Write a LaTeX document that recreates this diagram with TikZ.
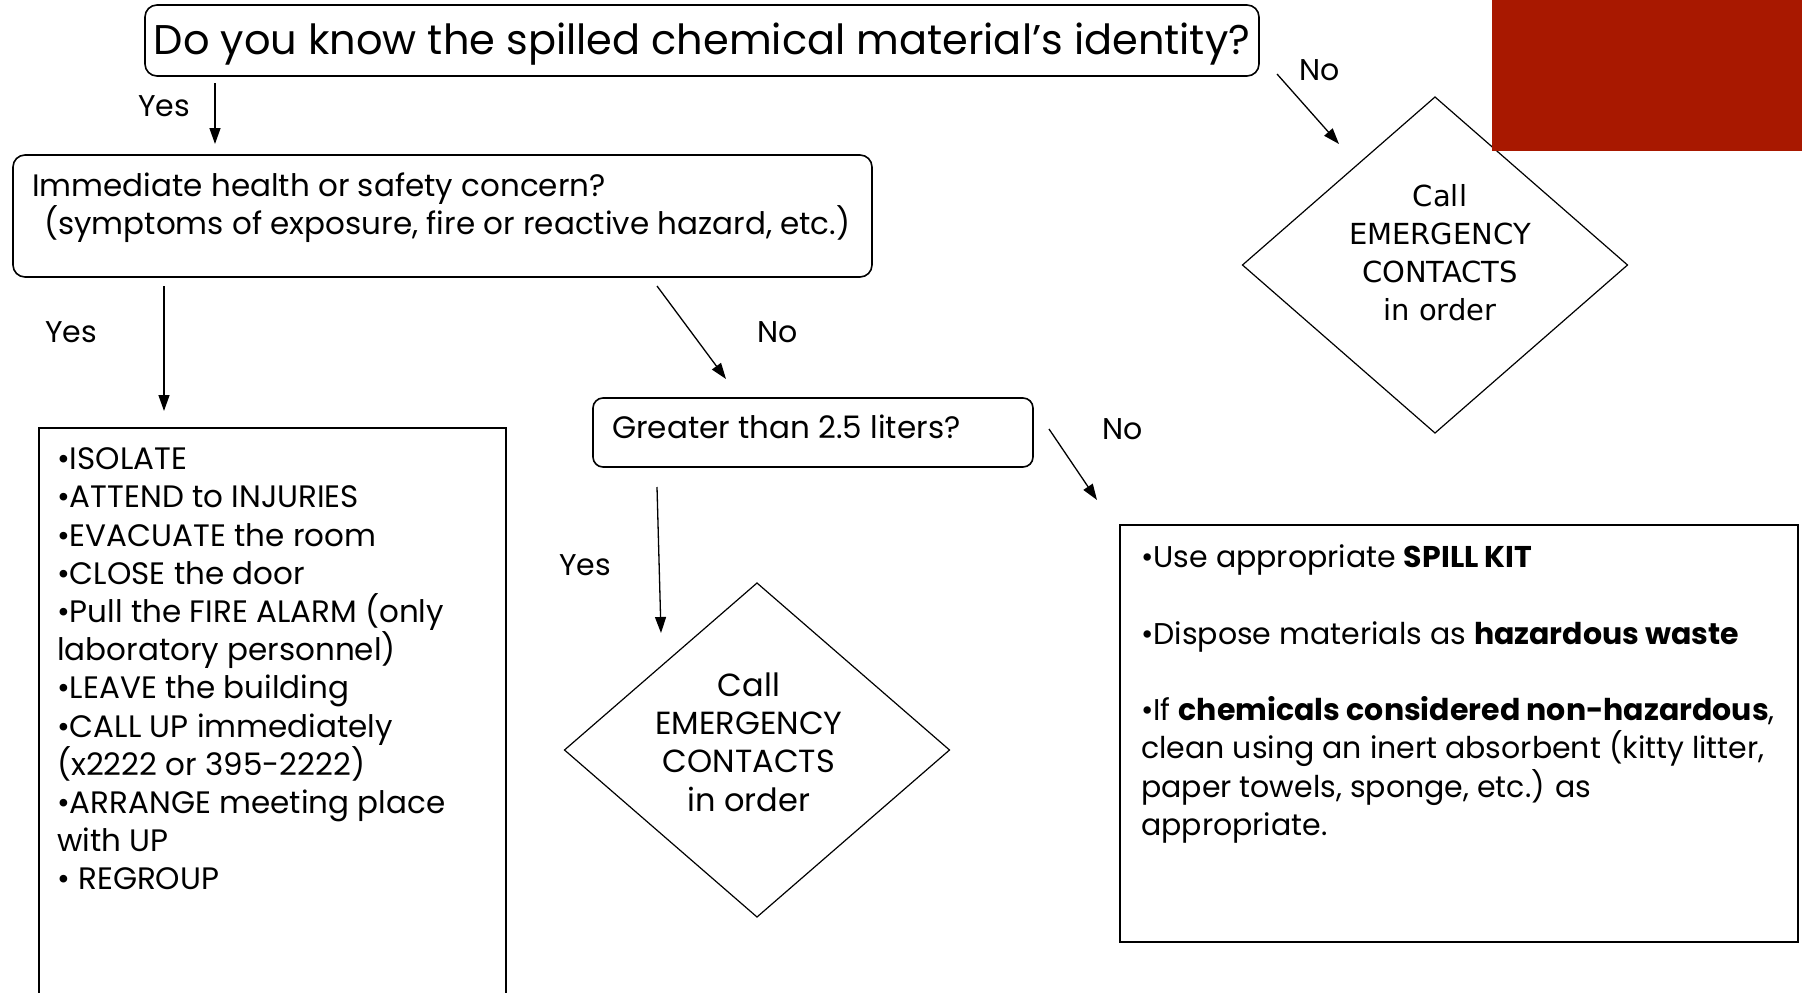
\documentclass[tikz,border=0pt]{standalone}
\usepackage{fontspec}
\setmainfont{Poppins}
\newfontfamily\handfont{DejaVu Sans}
\usetikzlibrary{arrows.meta,shapes.geometric}
\definecolor{slidered}{RGB}{168,24,0}
\tikzset{
  box/.style={draw, line width=1.6pt, rounded corners=12pt},
  sqbox/.style={draw, line width=1.6pt},
  decision/.style={draw, diamond, line width=1.2pt, inner sep=0pt, outer sep=0pt},
  body/.style={font=\fontsize{31}{38.2}\selectfont, inner sep=0pt, align=left},
  arr/.style={-{Triangle[length=16pt,width=11pt]}, line width=1.3pt},
}
\begin{document}
\begin{tikzpicture}[x=1pt,y=-1pt]
  \useasboundingbox (0,0) rectangle (1802,993);
  \clip (0,0) rectangle (1802,993);
  % questions
  \node[box, minimum width=1114pt, minimum height=71pt,
    font=\fontsize{41.5}{48}\selectfont, text depth=4pt] (q1) at (702,40.5)
    {Do you know the spilled chemical material’s identity?};
  \node[box, minimum width=859pt, minimum height=122pt] (q2) at (442.5,216) {};
  \node[body, anchor=west] (q2t) at (32,208)
    {Immediate health or safety concern?\\\hspace{12pt}(symptoms of exposure, fire or reactive hazard, etc.)};
  \node[box, rounded corners=10pt, minimum width=440pt, minimum height=69pt] (q4) at (813,432.5) {};
  \node[body, anchor=west] (q4t) at (612,426.5) {Greater than 2.5 liters?};
  % actions
  \node[sqbox, minimum width=467pt, minimum height=582pt] (q3) at (272.5,719) {};
  \node[body, anchor=west] (q3t) at (57,669) {%
    •ISOLATE\\
    •ATTEND to INJURIES\\
    •EVACUATE the room\\
    •CLOSE the door\\
    •Pull the FIRE ALARM (only\\
    laboratory personnel)\\
    •LEAVE the building\\
    •CALL UP immediately\\
    (x2222 or 395-2222)\\
    •ARRANGE meeting place\\
    with UP\\
    • REGROUP};
  \node[sqbox, minimum width=678pt, minimum height=417pt] (q5) at (1459,733.5) {};
  \node[body, anchor=west, font=\fontsize{30}{38.2}\selectfont] (q5t) at (1141,694) {%
    •Use appropriate \textbf{SPILL KIT}\\[38.2pt]
    •Dispose materials as \textbf{hazardous waste}\\[38.2pt]
    •If \textbf{chemicals considered non-hazardous},\\
    clean using an inert absorbent (kitty litter,\\
    paper towels, sponge, etc.) as\\
    appropriate.};
  \node[decision, minimum width=385pt, minimum height=334pt] (d2) at (757,750) {};
  \node[body, align=center, font=\fontsize{32}{38.2}\selectfont] (d2t) at (749,742)
    {Call\\EMERGENCY\\CONTACTS\\in order};
  \node[decision, minimum width=385pt, minimum height=336pt] (d1) at (1435,265) {};
  \node[body, align=center, font=\handfont\fontsize{29}{38}\selectfont] (d1t) at (1440,253)
    {Call\\EMERGENCY\\CONTACTS\\in order};
  % red corner block
  \fill[slidered] (1492,0) rectangle (1802,151);
  % connectors
  \coordinate (a1) at (215,83);   \coordinate (b1) at (215,144);
  \coordinate (a2) at (164,286);  \coordinate (b2) at (164,411);
  \coordinate (a3) at (657,286);  \coordinate (b3) at (726,379);
  \coordinate (a4) at (657,487);  \coordinate (b4) at (661,633);
  \coordinate (a5) at (1049,429); \coordinate (b5) at (1097,500);
  \coordinate (a6) at (1277,74);  \coordinate (b6) at (1339,144);
  \draw[arr] (a1) -- (b1);
  \draw[arr] (a2) -- (b2);
  \draw[arr] (a3) -- (b3);
  \draw[arr] (a4) -- (b4);
  \draw[arr] (a5) -- (b5);
  \draw[arr] (a6) -- (b6);
  \node[body, font=\fontsize{30}{36}\selectfont] (y1) at (164,106) {Yes};
  \node[body, font=\fontsize{30}{36}\selectfont] (y2) at (71,332) {Yes};
  \node[body, font=\fontsize{30}{36}\selectfont] (n1) at (778,332) {No};
  \node[body, font=\fontsize{30}{36}\selectfont] (y3) at (585,565) {Yes};
  \node[body, font=\fontsize{30}{36}\selectfont] (n2) at (1123,429) {No};
  \node[body, font=\fontsize{30}{36}\selectfont] (n3) at (1320,70) {No};
\end{tikzpicture}
\end{document}
